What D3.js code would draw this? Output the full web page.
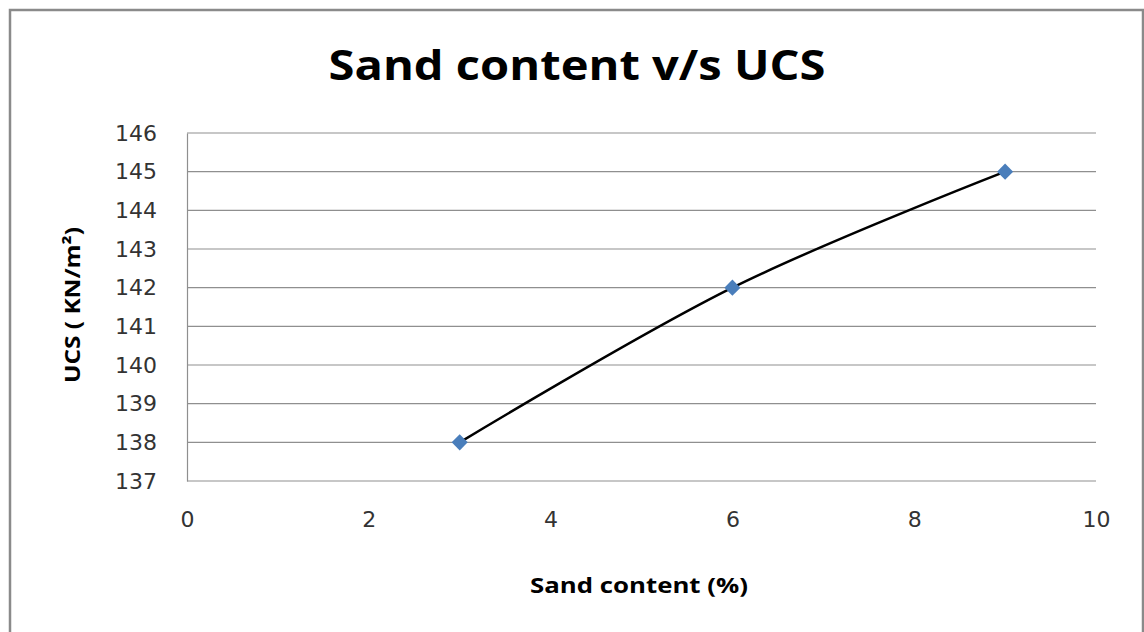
<!DOCTYPE html>
<html>
<head>
<meta charset="utf-8">
<script src="https://cdn.jsdelivr.net/npm/d3@7"></script>
<style>
  body { margin: 0; background: #fff; }
  svg { display: block; }
</style>
</head>
<body>
<div id="chart"></div>
<script>
// Data
const sandContent = [3, 6, 9];
const ucs = [138, 142, 145];
const xTicks = [0, 2, 4, 6, 8, 10];
const yTicks = [137, 138, 139, 140, 141, 142, 143, 144, 145, 146];

const width = 1144, height = 632;
const margin = { left: 187, right: 48, top: 133, bottom: 151 };

const svg = d3.select("#chart").append("svg")
    .attr("width", width)
    .attr("height", height);

// outer chart border
svg.append("rect")
    .attr("x", 10).attr("y", 10)
    .attr("width", 1133).attr("height", 640)
    .attr("fill", "#fff")
    .attr("stroke", "#8a8a8a")
    .attr("stroke-width", 2.5);

const x = d3.scaleLinear().domain([0, 10]).range([margin.left, width - margin.right]);
const y = d3.scaleLinear().domain([137, 146]).range([height - margin.bottom, margin.top]);

// gridlines
svg.append("g")
    .selectAll("line")
    .data(yTicks)
    .join("line")
    .attr("x1", x(0)).attr("x2", x(10))
    .attr("y1", d => y(d)).attr("y2", d => y(d))
    .attr("stroke", "#8f8f8f")
    .attr("stroke-width", 1.2);

// y axis
const yAxis = svg.append("g")
    .attr("transform", `translate(${x(0)},0)`)
    .call(d3.axisLeft(y).tickValues(yTicks).tickSize(0).tickPadding(30).tickFormat(d3.format("d")));
yAxis.select(".domain").attr("stroke", "#8f8f8f").attr("stroke-width", 1.2);
yAxis.selectAll("text")
    .attr("font-family", "DejaVu Sans")
    .attr("font-size", 22)
    .attr("fill", "#333");

// x axis
const xAxis = svg.append("g")
    .attr("transform", `translate(0,${y(137)})`)
    .call(d3.axisBottom(x).tickValues(xTicks).tickSize(0).tickPadding(30).tickFormat(d3.format("d")));
xAxis.select(".domain").remove();
xAxis.selectAll("text")
    .attr("font-family", "DejaVu Sans")
    .attr("font-size", 22)
    .attr("fill", "#333");

// title
svg.append("text")
    .attr("x", 577).attr("y", 80)
    .attr("text-anchor", "middle")
    .attr("font-family", "Open Sans")
    .attr("font-weight", "bold")
    .attr("font-size", 41)
    .attr("textLength", 497)
    .attr("lengthAdjust", "spacingAndGlyphs")
    .text("Sand content v/s UCS");

// axis titles
svg.append("text")
    .attr("x", 639).attr("y", 593)
    .attr("text-anchor", "middle")
    .attr("font-family", "Open Sans")
    .attr("font-weight", "bold")
    .attr("font-size", 21)
    .attr("textLength", 218)
    .attr("lengthAdjust", "spacingAndGlyphs")
    .text("Sand content (%)");

svg.append("text")
    .attr("transform", "translate(80,305) rotate(-90)")
    .attr("text-anchor", "middle")
    .attr("font-family", "Open Sans")
    .attr("font-weight", "bold")
    .attr("font-size", 21)
    .attr("textLength", 156)
    .attr("lengthAdjust", "spacingAndGlyphs")
    .text("UCS ( KN/m²)");

// smoothed line
const points = sandContent.map((d, i) => [d, ucs[i]]);
const line = d3.line()
    .x(d => x(d[0]))
    .y(d => y(d[1]))
    .curve(d3.curveCardinal.tension(0));

svg.append("path")
    .datum(points)
    .attr("d", line)
    .attr("fill", "none")
    .attr("stroke", "#000")
    .attr("stroke-width", 2.5);

// diamond markers
svg.append("g")
    .selectAll("path")
    .data(points)
    .join("path")
    .attr("transform", d => `translate(${x(d[0])},${y(d[1])})`)
    .attr("d", d3.symbol().type(d3.symbolDiamond2).size(165))
    .attr("fill", "#4a7ebb");
</script>
</body>
</html>
